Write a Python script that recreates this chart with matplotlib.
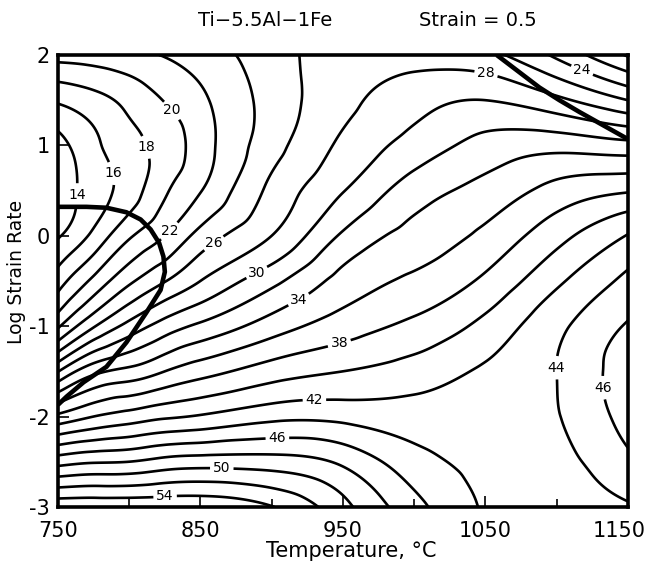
import numpy as np
import matplotlib
matplotlib.use('Agg')
import matplotlib.pyplot as plt
import matplotlib.tri as mtri
from matplotlib.transforms import ScaledTranslation

# processing map: power dissipation efficiency (%) vs temperature and log strain rate
temps = [750, 775, 800, 825, 850, 900, 950, 1000, 1050, 1100, 1150]
log_rates = [2.0, 1.5, 1.0, 0.5, 0.0, -0.5, -1.0, -1.5, -2.0, -2.5, -3.0]

# efficiency at each temperature, listed top (log rate 2) to bottom (log rate -3)
eta_750 = [20.8, 16.3, 13.3, 12.6, 13.8, 17.1, 21.7, 29.9, 38.5, 47.2, 55.5]
eta_775 = [21.0, 17.3, 15.5, 15.0, 16.5, 20.5, 25.8, 33.4, 40.0, 47.8, 55.5]
eta_800 = [21.6, 18.6, 17.4, 17.0, 19.7, 23.6, 28.7, 34.6, 40.9, 48.0, 55.5]
eta_825 = [22.1, 20.1, 18.8, 19.7, 22.0, 25.9, 30.9, 36.0, 41.7, 48.7, 55.5]
eta_850 = [23.0, 21.6, 21.0, 21.9, 24.7, 28.0, 32.4, 37.2, 42.2, 49.0, 55.5]
eta_900 = [25.1, 24.8, 25.2, 26.5, 28.0, 31.4, 35.0, 39.0, 43.4, 48.9, 54.1]
eta_950 = [27.0, 27.4, 28.4, 29.9, 32.3, 34.7, 37.0, 40.0, 43.4, 47.6, 50.6]
eta_1000 = [27.2, 29.2, 30.8, 33.0, 34.7, 36.4, 38.5, 40.9, 42.9, 44.8, 46.7]
eta_1050 = [26.6, 30.0, 32.7, 34.7, 36.5, 38.4, 40.6, 42.3, 43.2, 43.5, 43.8]
eta_1100 = [23.6, 28.5, 33.3, 36.7, 39.3, 41.6, 43.5, 44.0, 43.9, 43.5, 43.2]
eta_1150 = [19.8, 26.0, 32.7, 37.8, 42.1, 44.5, 46.2, 47.4, 46.9, 45.5, 43.8]

# flow instability boundaries
unstable_low_T = [750, 770, 784, 798, 808, 815, 821, 824, 825, 822, 812, 798, 784, 768, 756, 750]
unstable_low_sr = [0.32, 0.32, 0.31, 0.26, 0.18, 0.07, -0.08, -0.23, -0.40, -0.60, -0.85, -1.18, -1.45, -1.62, -1.78, -1.87]
unstable_high_T = [1058, 1073, 1088, 1102, 1116, 1133, 1150]
unstable_high_sr = [2.0, 1.82, 1.64, 1.50, 1.37, 1.22, 1.07]

levels = np.arange(14, 57, 2)
label_levels = [14, 16, 18, 20, 22, 24, 26, 28, 30, 34, 38, 42, 44, 46, 50, 54]
label_pos = [(765, 0.45), (788, 0.69), (812, 0.98), (831, 1.40), (829, 0.04),
             (862, -0.14), (890, -0.42), (921, -0.77), (948, -1.22), (930, -1.80),
             (904, -2.24), (865, -2.55), (825, -2.83), (1100, -1.46), (1134, -1.68),
             (1050, 1.76), (1120, 1.91)]


def smooth_field():
    eta = np.array([eta_750, eta_775, eta_800, eta_825, eta_850, eta_900,
                    eta_950, eta_1000, eta_1050, eta_1100, eta_1150]).T
    T, Y = np.meshgrid(temps, log_rates)
    # scale temperature so the triangles are not stretched
    tri = mtri.Triangulation((T.ravel() - 750) / 80., Y.ravel())
    interp = mtri.CubicTriInterpolator(tri, eta.ravel(), kind='min_E')
    tf, yf = np.meshgrid(np.linspace(750, 1150, 401), np.linspace(-3, 2, 401))
    ef = interp((tf - 750) / 80., yf)
    return tf, yf, ef


def run():
    plt.rcParams['font.family'] = 'DejaVu Sans'
    plt.rcParams['axes.unicode_minus'] = False
    fig = plt.figure(figsize=(6.46, 5.67), dpi=100)
    ax = fig.add_axes([0.0898, 0.106, 0.882, 0.797])

    tf, yf, ef = smooth_field()
    plain = [lv for lv in levels if lv not in label_levels]
    ax.contour(tf, yf, ef, levels=plain, colors='black', linewidths=1.9)
    cs = ax.contour(tf, yf, ef, levels=label_levels, colors='black', linewidths=1.9)
    labels = ax.clabel(cs, manual=label_pos, inline=True,
                       inline_spacing=3, fontsize=10, fmt='%d')
    for t in labels:
        t.set_rotation(0)

    ax.plot(unstable_low_T, unstable_low_sr, color='black', lw=3.3, solid_capstyle='butt')
    ax.plot(unstable_high_T, unstable_high_sr, color='black', lw=3.3, solid_capstyle='butt')

    ax.set_xlim(750, 1150)
    ax.set_ylim(-3, 2)
    ax.set_xticks([750, 850, 950, 1050, 1150])
    ax.set_xticks([800, 900, 1000, 1100], minor=True)
    ax.set_yticks([-3, -2, -1, 0, 1, 2])
    ax.tick_params(direction='in', length=8, width=1.2, labelsize=15, pad=6)
    ax.tick_params(axis='x', pad=10)
    ax.tick_params(which='minor', direction='in', length=6, width=1.2)
    for s in ax.spines.values():
        s.set_linewidth(2.6)

    # nudge the last temperature label so it stays inside the figure
    last = ax.get_xticklabels()[-1]
    last.set_transform(last.get_transform() + ScaledTranslation(-6 / 72., 0, fig.dpi_scale_trans))

    ax.set_xlabel('Temperature, °C', fontsize=15)
    ax.xaxis.set_label_coords(0.515, -0.075)
    ax.set_ylabel('Log Strain Rate', fontsize=13.5)
    ax.yaxis.set_label_coords(-0.056, 0.52)
    fig.text(0.41, 0.963, 'Ti\u22125.5Al\u22121Fe', fontsize=14, ha='center', va='center')
    fig.text(0.74, 0.963, 'Strain = 0.5', fontsize=14, ha='center', va='center')

    fig.savefig('out.png', dpi=100)


if __name__ == '__main__':
    run()
